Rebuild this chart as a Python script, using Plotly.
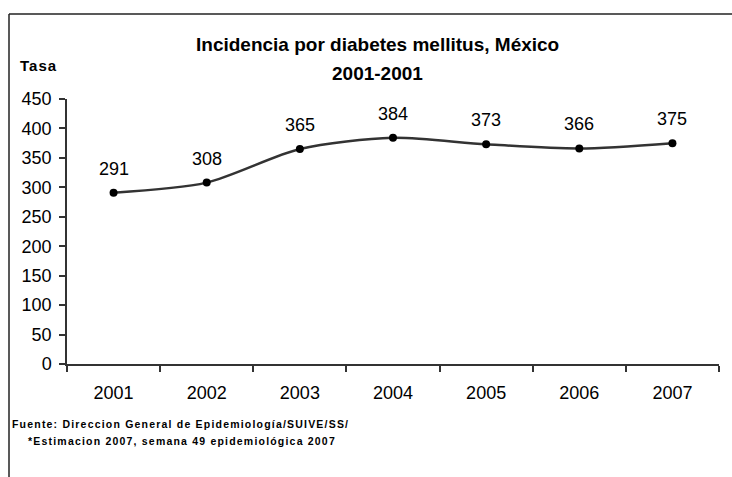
import plotly.graph_objects as go

years = ["2001", "2002", "2003", "2004", "2005", "2006", "2007"]
tasa = [291, 308, 365, 384, 373, 366, 375]
y_ticks = [0, 50, 100, 150, 200, 250, 300, 350, 400, 450]

W, H = 732, 477
L, R, T, B = 67, 13, 99, 113
pw, ph = W - L - R, H - T - B

def px_x(px):
    return (px - L) / pw

def px_y(py):
    return (H - B - py) / ph

FONT = "Liberation Sans, Arial, sans-serif"
INK = "#000000"

fig = go.Figure()
fig.add_trace(go.Scatter(
    x=years, y=tasa, mode="lines+markers",
    line=dict(color="#333333", width=2.5, shape="spline", smoothing=0.8),
    marker=dict(color="#000000", size=8),
    showlegend=False, hoverinfo="skip",
))

for i, v in enumerate(tasa):
    fig.add_annotation(x=i, y=v, xref="x", yref="y", text=str(v), showarrow=False,
                       yshift=24, font=dict(family=FONT, size=18, color=INK))

fig.update_xaxes(type="category", range=[-0.5, 6.5], tickson="boundaries",
                 showline=True, linecolor="#333333", linewidth=1.5,
                 ticks="outside", ticklen=6, tickcolor="#333333", tickwidth=1.5,
                 ticklabelstandoff=12,
                 showgrid=False, zeroline=False,
                 tickfont=dict(family=FONT, size=18, color=INK))
fig.update_yaxes(range=[0, 450], tickvals=y_ticks,
                 showline=True, linecolor="#333333", linewidth=1.5,
                 ticks="outside", ticklen=6, tickcolor="#333333", tickwidth=1.5,
                 ticklabelstandoff=4,
                 showgrid=False, zeroline=False,
                 tickfont=dict(family=FONT, size=18, color=INK))

# titles and notes
fig.add_annotation(xref="paper", yref="paper", x=px_x(377), y=px_y(44),
                   text="<b>Incidencia por diabetes mellitus, México</b>",
                   showarrow=False, xanchor="center", yanchor="middle",
                   font=dict(family=FONT, size=19, color=INK))
fig.add_annotation(xref="paper", yref="paper", x=px_x(377), y=px_y(73),
                   text="<b>2001-2001</b>",
                   showarrow=False, xanchor="center", yanchor="middle",
                   font=dict(family=FONT, size=19, color=INK))
fig.add_annotation(xref="paper", yref="paper", x=px_x(18), y=px_y(65),
                   text="<b><span style='letter-spacing:1px'>Tasa</span></b>",
                   showarrow=False, xanchor="left", yanchor="middle",
                   font=dict(family=FONT, size=15, color=INK))
fig.add_annotation(xref="paper", yref="paper", x=px_x(10), y=px_y(424),
                   text="<b><span style='letter-spacing:1.2px'>Fuente: Direccion General de Epidemiología/SUIVE/SS/</span></b>",
                   showarrow=False, xanchor="left", yanchor="middle",
                   font=dict(family=FONT, size=10.5, color=INK))
fig.add_annotation(xref="paper", yref="paper", x=px_x(26), y=px_y(441),
                   text="<b><span style='letter-spacing:1.2px'>*Estimacion 2007, semana 49 epidemiológica 2007</span></b>",
                   showarrow=False, xanchor="left", yanchor="middle",
                   font=dict(family=FONT, size=10.5, color=INK))

# outer frame (left and top edges visible)
fig.add_shape(type="line", xref="paper", yref="paper",
              x0=px_x(9), x1=px_x(9), y0=px_y(14), y1=px_y(480),
              line=dict(color="#222222", width=1.5))
fig.add_shape(type="line", xref="paper", yref="paper",
              x0=px_x(9), x1=px_x(735), y0=px_y(14), y1=px_y(14),
              line=dict(color="#222222", width=1.5))

fig.update_layout(width=W, height=H,
                  margin=dict(l=L, r=R, t=T, b=B),
                  paper_bgcolor="white", plot_bgcolor="white",
                  font=dict(family=FONT, color=INK))

fig.write_html("out.html")
